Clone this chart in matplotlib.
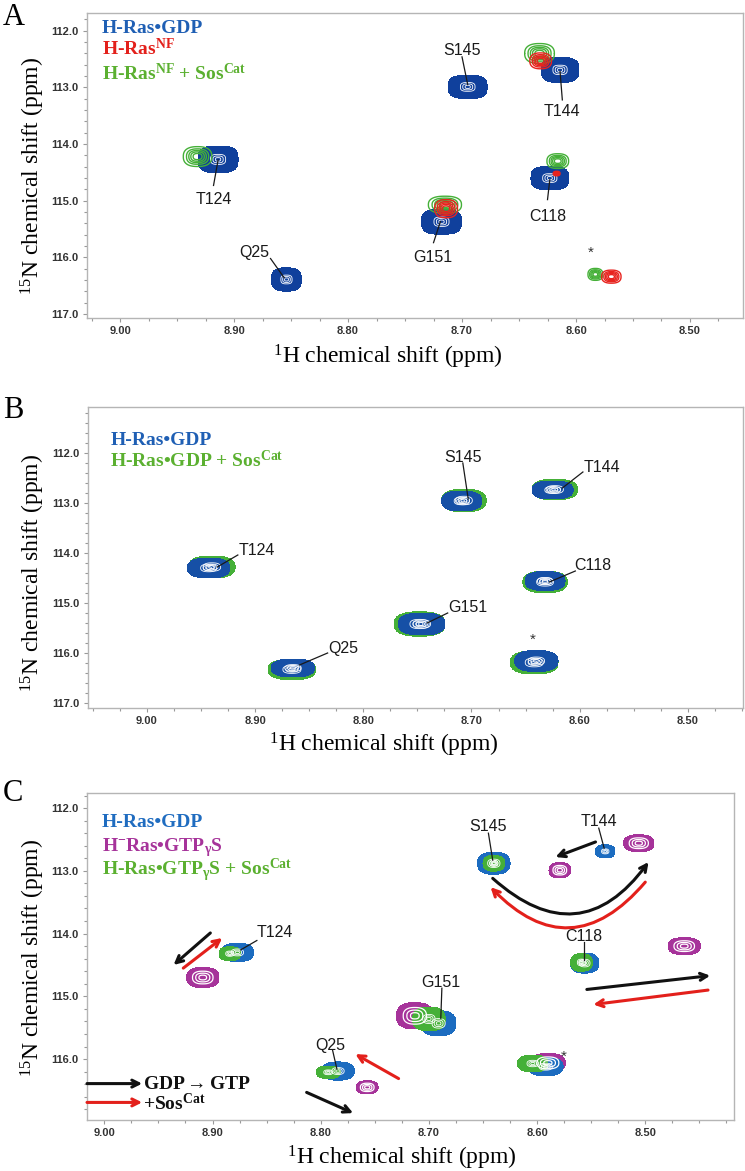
import numpy as np
import matplotlib
matplotlib.use("Agg")
import matplotlib.pyplot as plt
from matplotlib.ticker import MultipleLocator, FormatStrFormatter

plt.rcParams["mathtext.fontset"] = "custom"
plt.rcParams["mathtext.rm"] = "Liberation Serif"
plt.rcParams["mathtext.bf"] = "Liberation Serif:bold"
plt.rcParams["mathtext.it"] = "Liberation Serif:italic"

# ---- panel A : peak centres (1H, 15N) and outer contour widths (ppm)
a_gdp_h = [8.914, 8.854, 8.695, 8.614, 8.623, 8.718]
a_gdp_n = [114.27, 116.39, 112.99, 112.69, 114.60, 115.37]
a_gdp_wh = [0.035, 0.026, 0.034, 0.033, 0.033, 0.035]
a_gdp_wn = [0.47, 0.41, 0.41, 0.44, 0.41, 0.44]

a_nf_h = [8.631, 8.714, 8.617, 8.569]
a_nf_n = [112.53, 115.14, 114.52, 116.34]
a_nf_wh = [0.019, 0.020, 0.006, 0.017]
a_nf_wn = [0.28, 0.32, 0.08, 0.23]

a_nfsos_h = [8.932, 8.632, 8.715, 8.616, 8.583]
a_nfsos_n = [114.22, 112.40, 115.07, 114.30, 116.30]
a_nfsos_wh = [0.025, 0.026, 0.029, 0.019, 0.013]
a_nfsos_wn = [0.35, 0.35, 0.30, 0.26, 0.21]

# ---- panel B
b_gdp_h = [8.943, 8.865, 8.709, 8.625, 8.632, 8.746, 8.640]
b_gdp_n = [114.30, 116.30, 112.96, 112.74, 114.56, 115.42, 116.16]
b_gdp_wh = [0.039, 0.040, 0.037, 0.038, 0.037, 0.043, 0.040]
b_gdp_wn = [0.40, 0.36, 0.40, 0.36, 0.38, 0.44, 0.42]

b_sos_h = [8.940, 8.866, 8.707, 8.623, 8.632, 8.748, 8.642]
b_sos_n = [114.28, 116.33, 112.95, 112.73, 114.58, 115.42, 116.19]
b_sos_wh = [0.043, 0.044, 0.041, 0.042, 0.041, 0.047, 0.044]
b_sos_wn = [0.44, 0.41, 0.45, 0.41, 0.43, 0.49, 0.46]

# ---- panel C
c_gdp_h = [8.877, 8.784, 8.640, 8.537, 8.556, 8.691, 8.592]
c_gdp_n = [114.30, 116.19, 112.88, 112.69, 114.47, 115.43, 116.12]
c_gdp_wh = [0.030, 0.030, 0.030, 0.018, 0.026, 0.032, 0.032]
c_gdp_wn = [0.29, 0.29, 0.35, 0.21, 0.32, 0.40, 0.29]

c_gtp_h = [8.909, 8.757, 8.506, 8.579, 8.464, 8.713, 8.590]
c_gtp_n = [114.70, 116.45, 112.56, 112.99, 114.20, 115.31, 116.06]
c_gtp_wh = [0.030, 0.020, 0.028, 0.020, 0.030, 0.034, 0.032]
c_gtp_wn = [0.32, 0.21, 0.27, 0.24, 0.27, 0.42, 0.30]

c_sos_h = [8.884, 8.793, 8.640, 8.559, 8.700, 8.604]
c_sos_n = [114.32, 116.21, 112.88, 114.46, 115.36, 116.07]
c_sos_wh = [0.020, 0.022, 0.020, 0.020, 0.030, 0.028]
c_sos_wn = [0.22, 0.20, 0.25, 0.28, 0.38, 0.27]

# ---- residue labels: text, text position, leader line (start -> end)
a_labels = [
    ("T124", 8.918, 114.98, 8.918, 114.73, 8.914, 114.28),
    ("Q25", 8.882, 115.92, 8.868, 116.02, 8.856, 116.36),
    ("S145", 8.700, 112.34, 8.700, 112.46, 8.695, 112.95),
    ("T144", 8.612, 113.43, 8.612, 113.22, 8.614, 112.72),
    ("C118", 8.625, 115.28, 8.625, 114.98, 8.623, 114.63),
    ("G151", 8.726, 116.00, 8.725, 115.74, 8.719, 115.37),
]
b_labels = [
    ("T124", 8.898, 113.94, 8.916, 114.04, 8.935, 114.28),
    ("Q25", 8.819, 115.90, 8.833, 116.00, 8.859, 116.24),
    ("S145", 8.708, 112.08, 8.708, 112.20, 8.703, 112.92),
    ("T144", 8.579, 112.28, 8.597, 112.38, 8.616, 112.70),
    ("C118", 8.588, 114.24, 8.604, 114.36, 8.628, 114.58),
    ("G151", 8.703, 115.08, 8.722, 115.20, 8.741, 115.40),
]
c_labels = [
    ("T124", 8.842, 113.99, 8.859, 114.11, 8.874, 114.26),
    ("Q25", 8.791, 115.78, 8.789, 115.86, 8.785, 116.16),
    ("S145", 8.645, 112.30, 8.645, 112.40, 8.641, 112.83),
    ("T144", 8.543, 112.22, 8.543, 112.32, 8.538, 112.64),
    ("C118", 8.557, 114.04, 8.557, 114.14, 8.557, 114.42),
    ("G151", 8.689, 114.78, 8.688, 114.87, 8.689, 115.35),
]
a_star = (8.587, 115.92)
b_star = (8.643, 115.74)
c_star = (8.575, 115.96)

# ---- shift arrows in C: (start H, start N, end H, end N, colour, curvature)
c_arrows = [
    (8.902, 113.99, 8.936, 114.50, "k", 0.0),
    (8.927, 114.55, 8.891, 114.07, "r", 0.0),
    (8.728, 116.31, 8.768, 115.92, "r", 0.0),
    (8.813, 116.53, 8.770, 116.86, "k", 0.0),
    (8.546, 112.54, 8.583, 112.78, "k", 0.0),
    (8.641, 113.12, 8.497, 112.86, "k", 0.55),
    (8.500, 113.18, 8.643, 113.26, "r", -0.55),
    (8.554, 114.89, 8.440, 114.67, "k", 0.0),
    (8.442, 114.90, 8.548, 115.13, "r", 0.0),
]

ARROW_COL = {"k": "#111111", "r": "#e3201b"}
BLUE_A = "#10409c"
BLUE_B = "#1650a6"
BLUE_C = "#1c6cc0"
RED = "#e8231e"
GREEN = "#45b038"
MAGENTA = "#a6339a"
SANS = ["Liberation Sans", "DejaVu Sans"]
SERIF = ["Liberation Serif", "DejaVu Serif"]


def peak(h, n, wh, wn, q=2.5, lo=0.1):
    r = np.sqrt(-2 * np.log(lo))
    sh, sn = wh / 2 / r, wn / 2 / r
    hh = np.linspace(h - wh, h + wh, 141)
    nn = np.linspace(n - wn, n + wn, 141)
    H, N = np.meshgrid(hh, nn)
    u = (np.abs((H - h) / sh) ** q + np.abs((N - n) / sn) ** q) ** (1 / q)
    return H, N, np.exp(-u ** 2 / 2)


def draw_spectrum(ax, hs, ns, whs, wns, color, style="fill", q=2.5):
    for h, n, wh, wn in zip(hs, ns, whs, wns):
        H, N, Z = peak(h, n, wh, wn, q=q)
        if style == "fill":
            ax.contourf(H, N, Z, levels=[0.1, 1.01], colors=[color])
            ax.contour(H, N, Z, levels=[0.72, 0.86, 0.96],
                       colors="white", linewidths=0.6)
        elif style == "rings":
            ax.contourf(H, N, Z, levels=[0.1, 1.01], colors=[color])
            ax.contour(H, N, Z, levels=[0.4, 0.65, 0.88],
                       colors="white", linewidths=0.9)
        else:
            ax.contour(H, N, Z, levels=[0.1, 0.25, 0.42, 0.6, 0.8],
                       colors=color, linewidths=1.0)


def setup(ax, xlim, ylim, ymax, xlab, ylab):
    ax.set_xlim(*xlim)
    ax.set_ylim(*ylim)
    ax.xaxis.set_major_locator(MultipleLocator(0.1))
    ax.xaxis.set_minor_locator(MultipleLocator(0.025))
    ax.yaxis.set_major_locator(MultipleLocator(1.0))
    ax.yaxis.set_minor_locator(MultipleLocator(0.2))
    ax.xaxis.set_major_formatter(FormatStrFormatter("%.2f"))
    ax.yaxis.set_major_formatter(FormatStrFormatter("%.1f"))
    ax.set_yticks(np.arange(112, ymax + 0.5, 1.0))
    for s in ax.spines.values():
        s.set_color("#b5b5b5")
        s.set_linewidth(1.0)
    ax.tick_params(which="both", direction="out", color="#999999", width=0.8)
    ax.tick_params(which="major", length=3, pad=3)
    ax.tick_params(which="minor", length=2)
    for t in ax.get_xticklabels() + ax.get_yticklabels():
        t.set_fontfamily(SANS)
        t.set_fontweight("bold")
        t.set_fontsize(8)
        t.set_color("#333333")
    ax.set_xlabel(r"$^{1}$H chemical shift (ppm)", family=SERIF, fontsize=17)
    ax.set_ylabel(r"$^{15}$N chemical shift (ppm)", family=SERIF, fontsize=17)
    ax.xaxis.label.set_va("center")
    ax.yaxis.label.set_va("center")
    ax.xaxis.set_label_coords(*xlab)
    ax.yaxis.set_label_coords(*ylab)


def residue_labels(ax, labels, star):
    for txt, th, tn, h0, n0, h1, n1 in labels:
        ax.text(th, tn, txt, ha="center", va="center", family=SANS,
                fontsize=11.5, color="#1a1a1a")
        ax.plot([h0, h1], [n0, n1], color="#1a1a1a", lw=0.9)
    ax.text(star[0], star[1], "*", ha="center", va="center", family=SANS,
            fontsize=11, color="#333333")


def legend(ax, x, ys, items):
    for y, (txt, col) in zip(ys, items):
        ax.text(x, y, txt, transform=ax.transAxes, ha="left", va="baseline",
                family=SERIF, fontweight="bold", fontsize=14, color=col)


fig = plt.figure(figsize=(7.45, 11.71), dpi=100)
W, Hf = 745.0, 1171.0


def axes_px(l, r, t, b):
    return fig.add_axes([l / W, 1 - b / Hf, (r - l) / W, (b - t) / Hf])


# ---------------- A
axA = axes_px(87, 743, 12.7, 318)
draw_spectrum(axA, a_gdp_h, a_gdp_n, a_gdp_wh, a_gdp_wn, BLUE_A, "fill", q=3)
draw_spectrum(axA, a_nfsos_h, a_nfsos_n, a_nfsos_wh, a_nfsos_wn, GREEN, "line")
draw_spectrum(axA, a_nf_h, a_nf_n, a_nf_wh, a_nf_wn, RED, "line")
setup(axA, (9.029, 8.4535), (117.07, 111.68), 117, (0.459, -0.128), (-0.082, 0.465))
residue_labels(axA, a_labels, a_star)
legend(axA, 0.023, [0.934, 0.861, 0.780],
       [("H-Ras•GDP", "#1f5fb4"),
        (r"H-Ras$^{\mathbf{NF}}$", "#e3201b"),
        (r"H-Ras$^{\mathbf{NF}}$ + Sos$^{\mathbf{Cat}}$", "#5bb030")])

# ---------------- B
axB = axes_px(88, 743, 407, 708)
draw_spectrum(axB, b_sos_h, b_sos_n, b_sos_wh, b_sos_wn, GREEN, "fill")
draw_spectrum(axB, b_gdp_h, b_gdp_n, b_gdp_wh, b_gdp_wn, BLUE_B, "fill")
setup(axB, (9.0545, 8.449), (117.1, 111.08), 117, (0.452, -0.123), (-0.084, 0.449))
residue_labels(axB, b_labels, b_star)
legend(axB, 0.034, [0.874, 0.801],
       [("H-Ras•GDP", "#1f5fb4"),
        (r"H-Ras•GDP + Sos$^{\mathbf{Cat}}$", "#5bb030")])

# ---------------- C
axC = axes_px(87, 734, 793, 1120)
draw_spectrum(axC, c_gtp_h, c_gtp_n, c_gtp_wh, c_gtp_wn, MAGENTA, "rings")
draw_spectrum(axC, c_gdp_h, c_gdp_n, c_gdp_wh, c_gdp_wn, BLUE_C, "fill")
draw_spectrum(axC, c_sos_h, c_sos_n, c_sos_wh, c_sos_wn, GREEN, "fill")
setup(axC, (9.016, 8.418), (116.97, 111.76), 116, (0.487, -0.116), (-0.083, 0.495))
residue_labels(axC, c_labels, c_star)
legend(axC, 0.023, [0.896, 0.823, 0.749],
       [("H-Ras•GDP", "#1f6cc0"),
        (r"H$^{\mathbf{-}}$Ras•GTP$_{\mathbf{γ}}$S", "#a6339a"),
        (r"H-Ras•GTP$_{\mathbf{γ}}$S + Sos$^{\mathbf{Cat}}$", "#5bb030")])

for h0, n0, h1, n1, c, rad in c_arrows:
    axC.annotate("", xy=(h1, n1), xytext=(h0, n0),
                 arrowprops=dict(arrowstyle="->,head_length=0.5,head_width=0.25",
                                 color=ARROW_COL[c], lw=2.2, shrinkA=0, shrinkB=0,
                                 connectionstyle=f"arc3,rad={rad}"))

# key arrows at the lower left of C
for n_arr, n_txt, c, txt in [(116.39, 116.47, "k", r"GDP${\rightarrow}$GTP"),
                             (116.69, 116.82, "r", r"+Sos$^{\mathbf{Cat}}$")]:
    axC.annotate("", xy=(8.965, n_arr), xytext=(9.016, n_arr),
                 arrowprops=dict(arrowstyle="->,head_length=0.5,head_width=0.25",
                                 color=ARROW_COL[c], lw=2.2, shrinkA=0, shrinkB=0))
    axC.text(8.964, n_txt, txt, ha="left", va="baseline", family=SERIF,
             fontweight="bold", fontsize=14, color="#111111")

# panel letters
for letter, base in [("A", 25), ("B", 418), ("C", 801)]:
    fig.text(3 / W, 1 - base / Hf, letter, ha="left", va="baseline",
             family=SERIF, fontsize=22)

fig.savefig("out.png", dpi=100)
